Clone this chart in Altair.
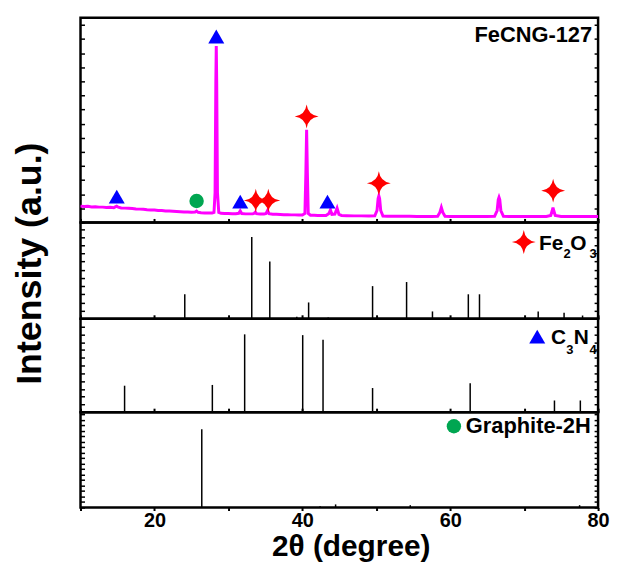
import altair as alt
import pandas as pd

# ---- FeCNG-127 measured pattern (2theta, intensity a.u.) ----
two_theta = [10.0, 10.5, 11.0, 11.5, 12.0, 12.5, 13.0, 13.5, 14.0, 14.5, 14.7, 14.9, 15.1, 15.5,
             16.0, 16.5, 17.0, 17.5, 18.0, 18.5, 19.0, 19.5, 20.0, 20.5, 21.0, 21.5, 22.0, 22.5,
             23.0, 23.5, 24.0, 24.5, 25.0, 25.5, 25.7, 25.9, 26.3, 26.8, 27.3, 27.8, 28.05, 28.2,
             28.3, 28.36, 28.42, 28.52, 28.7, 29.0, 29.5, 30.0, 30.5, 31.0, 31.4, 31.6, 31.8, 32.3,
             32.8, 33.3, 33.5, 33.65, 33.8, 34.3, 34.8, 35.1, 35.3, 35.5, 36.0, 36.5, 37.0, 37.5,
             38.0, 38.5, 39.0, 39.5, 40.0, 40.35, 40.48, 40.58, 40.68, 40.8, 41.1, 41.6, 42.1, 42.6,
             43.2, 43.6, 43.8, 44.0, 44.4, 44.7, 44.95, 45.3, 46.0, 47.0, 48.0, 49.0, 49.8, 50.1,
             50.25, 50.35, 50.45, 50.6, 50.9, 51.5, 52.5, 53.5, 54.5, 55.5, 56.5, 57.5, 58.3, 58.6,
             58.8, 59.0, 59.3, 60.0, 61.0, 62.0, 63.0, 64.0, 65.0, 66.0, 66.35, 66.5, 66.6, 66.7,
             66.85, 67.2, 68.0, 69.0, 70.0, 71.0, 72.0, 73.0, 73.6, 73.8, 73.9, 74.0, 74.2, 75.0,
             76.0, 77.0, 78.0, 79.0, 80.0]
intensity = [82, 80, 81, 78, 79, 77, 77, 75, 76, 74, 78, 82, 77, 73,
             72, 71, 70, 68, 67, 66, 64, 63, 62, 60, 60, 58, 57, 56,
             55, 54, 53, 52, 51, 52, 57, 51, 49, 48, 48, 47, 50, 150,
             700, 888, 700, 150, 50, 46, 45, 45, 44, 44, 46, 58, 45, 43,
             43, 43, 46, 52, 44, 42, 42, 45, 60, 44, 41, 41, 40, 39,
             39, 38, 38, 37, 37, 45, 250, 466, 250, 45, 36, 36, 35, 35,
             35, 45, 63, 40, 42, 72, 40, 35, 34, 33, 33, 32, 33, 60,
             120, 133, 120, 60, 32, 31, 31, 31, 31, 30, 30, 30, 31, 50,
             75, 50, 31, 30, 30, 30, 30, 30, 30, 31, 60, 115, 126, 115,
             60, 31, 30, 30, 30, 30, 30, 30, 35, 60, 75, 60, 35, 30,
             30, 30, 30, 30, 30]

# phase markers on the measured pattern
tri_x = [14.9, 28.36, 31.6, 43.4]
tri_y = [130, 936, 105, 105]
star_x = [33.7, 35.4, 40.58, 50.35, 73.92]
star_y = [110, 110, 533, 197, 160]
dot_x = [25.7]
dot_y = [108]

# ---- reference patterns (position, relative intensity) ----
fe_pos = [24.1, 33.16, 35.6, 39.25, 40.85, 43.5, 49.5, 54.1, 57.6, 62.45, 63.96, 71.9, 75.4, 77.9]
fe_int = [30, 100, 70, 2.5, 20, 1.5, 40, 45, 9, 30, 30, 9, 7.5, 4]
cn_pos = [15.96, 27.83, 32.2, 40.05, 42.8, 49.5, 62.7, 74.1, 77.6]
cn_int = [34, 35, 100, 99, 93, 31, 37, 15, 15]
gr_pos = [26.4, 42.4, 44.5, 54.6, 77.5]
gr_int = [100, 1.5, 4, 3, 3]

# ---- labels ----
top_lab = pd.DataFrame({"x": [79.2], "y": [910], "t": ["FeCNG-127"], "fs": [22]})
fe_lab = pd.DataFrame({"x": [72.0, 75.33, 76.23, 78.85], "y": [84.8, 74.6, 84.8, 74.6],
                       "t": ["Fe", "2", "O", "3"], "fs": [21, 13, 21, 13]})
fe_sym = pd.DataFrame({"x": [69.95], "y": [94]})
cn_lab = pd.DataFrame({"x": [73.63, 75.7, 76.7, 78.85], "y": [88, 75, 88, 75],
                       "t": ["C", "3", "N", "4"], "fs": [21, 13, 21, 13]})
cn_sym = pd.DataFrame({"x": [71.77], "y": [97]})
gr_lab = pd.DataFrame({"x": [62.1], "y": [95.3], "t": ["Graphite-2H"], "fs": [22]})
gr_sym = pd.DataFrame({"x": [60.5], "y": [104]})

FONT = "Liberation Sans"
STAR = "M0,-1Q0.12,-0.12 1,0Q0.12,0.12 0,1Q-0.12,0.12 -1,0Q-0.12,-0.12 0,-1Z"
W = 521
BLUE, RED, GREEN, MAGENTA = "#0000FF", "#FF0000", "#00A651", "#FF00FF"
XTICKS = list(range(10, 81, 10))


def xenc(bottom=False):
    if bottom:
        ax = alt.Axis(values=XTICKS, labelExpr="datum.value % 20 == 0 && datum.value > 10 ? datum.label : ''",
                      tickSize=3, tickWidth=2, tickColor="black", domain=False, grid=False,
                      labelFont=FONT, labelFontSize=20, labelFontWeight="bold", labelColor="black",
                      labelPadding=0, labelFlush=False,
                      title="2θ (degree)", titleFont=FONT, titleFontSize=30, titleFontWeight="bold",
                      titleColor="black", titleX=272, titleY=48, titleBaseline="alphabetic")
    else:
        ax = alt.Axis(values=XTICKS, labels=False, tickSize=4, tickWidth=2, tickColor="black",
                      domain=False, grid=False, offset=-4, title=None)
    return alt.X("x:Q", scale=alt.Scale(domain=[10, 80], nice=False, zero=False), axis=ax)


def yenc(dom, step, title=None):
    vals = [i * step for i in range(int(dom[1] / step) + 1)]
    kw = dict(orient="left", values=vals, labels=False, tickSize=4, tickWidth=1.5, tickColor="black",
              domain=False, grid=False, offset=-4)
    if title:
        kw.update(title=title, titleFont=FONT, titleFontSize=36, titleFontWeight="bold", titleColor="black",
                  titleX=-36, titleY=41)
    else:
        kw.update(title=None)
    return alt.Y("y:Q", scale=alt.Scale(domain=dom, nice=False, zero=False), axis=alt.Axis(**kw)), vals


def right_ticks(dom, vals):
    df = pd.DataFrame({"y": vals})
    return alt.Chart(df).mark_rule(opacity=0).encode(
        y=alt.Y("y:Q", scale=alt.Scale(domain=dom, nice=False, zero=False),
                axis=alt.Axis(orient="right", values=vals, labels=False, tickSize=4, tickWidth=1.5,
                              tickColor="black", domain=False, grid=False, offset=-4, title=None)))


def text_layer(df, X, Y, align="left"):
    return alt.Chart(df).mark_text(font=FONT, fontWeight="bold", align=align, baseline="alphabetic",
                                   color="black").encode(x=X, y=Y, text="t:N", size=alt.Size("fs:Q", scale=None))


def sym_layer(xs, ys, shape, size, color, X, Y):
    df = pd.DataFrame({"x": xs, "y": ys})
    return alt.Chart(df).mark_point(filled=True, opacity=1, strokeWidth=0).encode(
        x=X, y=Y, shape=alt.value(shape), size=alt.value(size), color=alt.value(color))


def panel(layers, dom, vals, h):
    return alt.layer(alt.layer(*layers), right_ticks(dom, vals)).resolve_scale(y="independent").properties(
        width=W, height=h)


# top panel: measured pattern
X1 = xenc()
dom1 = [0, 1030]
Y1, v1 = yenc(dom1, 71)
meas = pd.DataFrame({"x": two_theta, "y": intensity})
line = alt.Chart(meas).mark_line(color=MAGENTA, strokeWidth=3).encode(x=X1, y=Y1)
p1 = panel([line,
            sym_layer(tri_x, tri_y, "triangle-up", 260, BLUE, X1, Y1),
            sym_layer(star_x, star_y, STAR, 576, RED, X1, Y1),
            sym_layer(dot_x, dot_y, "circle", 210, GREEN, X1, Y1),
            text_layer(top_lab, X1, Y1, align="right")], dom1, v1, 206)


def stick_panel(pos, inten, dom, step, h, lab, sym, shape, ssize, scolor, bottom=False, title=None):
    X = xenc(bottom)
    Y, vals = yenc(dom, step, title)
    df = pd.DataFrame({"x": pos, "y": inten})
    rules = alt.Chart(df).mark_rule(color="black", strokeWidth=1.5).encode(x=X, y=Y, y2=alt.datum(0))
    return panel([rules,
                  sym_layer(list(sym["x"]), list(sym["y"]), shape, ssize, scolor, X, Y),
                  text_layer(lab, X, Y)], dom, vals, h)


p2 = stick_panel(fe_pos, fe_int, [0, 118], 10, 97, fe_lab, fe_sym, STAR, 576, RED, title="Intensity (a.u.)")
p3 = stick_panel(cn_pos, cn_int, [0, 120], 10, 94, cn_lab, cn_sym, "triangle-up", 260, BLUE)
p4 = stick_panel(gr_pos, gr_int, [0, 122], 7, 96, gr_lab, gr_sym, "circle", 210, GREEN, bottom=True)

chart = alt.vconcat(p1, p2, p3, p4, spacing=0, bounds="flush").resolve_scale(
    x="independent", y="independent").properties(
    padding={"left": 2, "top": 6, "right": 0, "bottom": 0}
).configure_view(stroke="black", strokeWidth=2.5)

chart.save("out.html", embed_options={"renderer": "svg", "actions": False})
